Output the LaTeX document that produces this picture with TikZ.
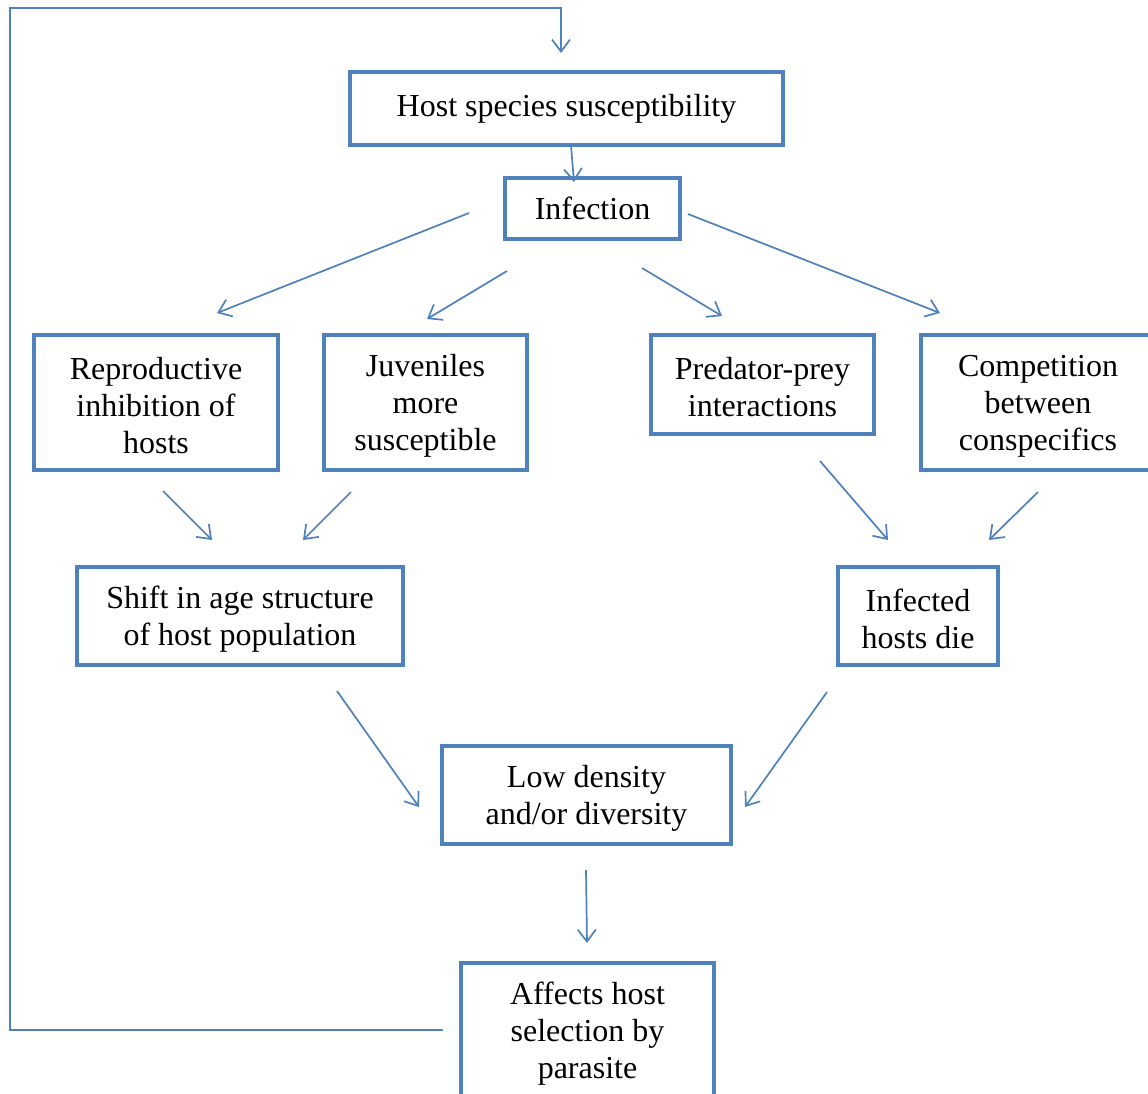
\documentclass[tikz,border=0pt]{standalone}
\usepackage{fontspec}
\setmainfont{Liberation Serif}
\usetikzlibrary{arrows.meta}
\definecolor{bx}{HTML}{4F81BD}
\newcommand{\toppad}{\rule{0pt}{28pt}}
\begin{document}
\begin{tikzpicture}[x=1pt,y=-1pt,
 box/.style={draw=bx,line width=3.5pt,inner sep=0pt,align=center,font=\fontsize{32}{37}\selectfont,text=black},
 con/.style={draw=bx,line width=1.7pt,-{Straight Barb[length=12pt,width=18pt,line width=1.7pt]}}]
\useasboundingbox (0,0) rectangle (1148,1093);
\clip (0,0) rectangle (1148,1093);
\fill[white] (0,0) rectangle (1148,1093);

\node[box,minimum width=433pt,minimum height=73pt] (host) at (566.5,108.5) {Host species susceptibility};
\node[box,minimum width=175pt,minimum height=61pt] (inf) at (592.5,208.5) {Infection};
\node[box,minimum width=244pt,minimum height=135pt] (rep) at (156,402.5) {\toppad Reproductive\\inhibition of\\hosts};
\node[box,minimum width=203pt,minimum height=135pt] (juv) at (425.5,402.5) {\toppad Juveniles\\more\\susceptible};
\node[box,minimum width=223pt,minimum height=99pt] (pred) at (762.5,384.5) {\toppad Predator-prey\\interactions};
\node[box,minimum width=234pt,minimum height=135pt] (comp) at (1038,402.5) {\toppad Competition\\between\\conspecifics};
\node[box,minimum width=326pt,minimum height=98pt] (shift) at (240,616) {\toppad Shift in age structure\\of host population};
\node[box,minimum width=160pt,minimum height=98pt] (die) at (918,616) {\toppad Infected\\hosts die};
\node[box,minimum width=289pt,minimum height=98pt] (low) at (586.5,795) {\toppad Low density\\and/or diversity};
\node[box,minimum width=253pt,minimum height=136pt] (aff) at (587.5,1031) {\toppad Affects host\\selection by\\parasite};

% connector end points
\coordinate (fbA) at (443,1030);
\coordinate (fbB) at (10,1030);
\coordinate (fbC) at (10,8);
\coordinate (fbD) at (561,8);
\coordinate (fbE) at (561,53);
\coordinate (hiA) at (571,146);
\coordinate (hiB) at (574,182);
\coordinate (irA) at (469,213);
\coordinate (irB) at (217,313);
\coordinate (ijA) at (507,271);
\coordinate (ijB) at (427,319);
\coordinate (ipA) at (642,268);
\coordinate (ipB) at (722,316);
\coordinate (icA) at (688,214);
\coordinate (icB) at (940,313);
\coordinate (rsA) at (163,491);
\coordinate (rsB) at (212,540);
\coordinate (jsA) at (351,492);
\coordinate (jsB) at (303,540);
\coordinate (pdA) at (820,461);
\coordinate (pdB) at (888,540);
\coordinate (cdA) at (1038,492);
\coordinate (cdB) at (989,540);
\coordinate (slA) at (337,691);
\coordinate (slB) at (419,807);
\coordinate (dlA) at (827,692);
\coordinate (dlB) at (745,807);
\coordinate (laA) at (586,870);
\coordinate (laB) at (587,943);

\draw[con] (fbA) -- (fbB) -- (fbC) -- (fbD) -- (fbE);
\draw[con] (hiA) -- (hiB);
\draw[con] (irA) -- (irB);
\draw[con] (ijA) -- (ijB);
\draw[con] (ipA) -- (ipB);
\draw[con] (icA) -- (icB);
\draw[con] (rsA) -- (rsB);
\draw[con] (jsA) -- (jsB);
\draw[con] (pdA) -- (pdB);
\draw[con] (cdA) -- (cdB);
\draw[con] (slA) -- (slB);
\draw[con] (dlA) -- (dlB);
\draw[con] (laA) -- (laB);
\end{tikzpicture}
\end{document}
